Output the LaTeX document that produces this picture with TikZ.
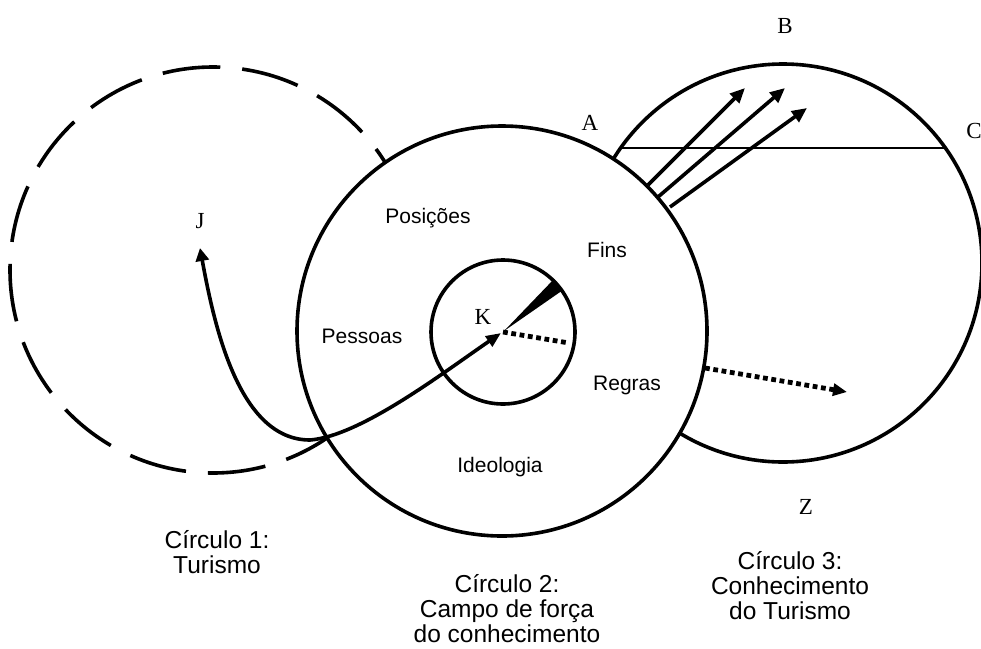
\documentclass[tikz,border=0pt]{standalone}
\usepackage{fontspec}
\setmainfont{Liberation Serif}
\newfontfamily\sansf{Liberation Sans}
\usetikzlibrary{arrows.meta}
\begin{document}
\begin{tikzpicture}[x=1pt,y=-1pt,
  ring/.style={line width=3.6pt},
  lett/.style={font=\fontsize{23}{25}\selectfont, inner sep=0pt, anchor=base},
  inlab/.style={font=\sansf\fontsize{21}{24}\selectfont, inner sep=0pt, anchor=base},
  capt/.style={font=\sansf\fontsize{24.5}{24.5}\selectfont, inner sep=0pt, anchor=base},
  arr/.style={line width=3.6pt, -{Triangle[length=15pt,width=13pt]}},
  dotline/.style={line width=4.8pt, dash pattern=on 4.8pt off 3.6pt},
]
\useasboundingbox (0,0) rectangle (981,648);
% circle 1 (dashed) and circle 3, then circle 2 filled on top
\draw[ring, dash pattern=on 58pt off 22pt, dash phase=54pt] (213,270) circle[radius=203];
\draw[ring] (783,263) circle[radius=199];
\draw[ring, fill=white] (502,331) circle[radius=205];
% inner circle
\draw[ring] (503,332) circle[radius=72];
% coordinates
\coordinate (kc) at (503,332);
\coordinate (kt) at (501,333);
\coordinate (jt) at (200,248);
\coordinate (low) at (310,440);
\coordinate (w1) at (563,290);
\coordinate (w2) at (554,279);
\coordinate (de) at (569,343);
\coordinate (ch1) at (620.6,148);
\coordinate (ch2) at (945.4,148);
\coordinate (a1s) at (648,185);
\coordinate (a1e) at (745,88);
\coordinate (a2s) at (658,197);
\coordinate (a2e) at (785,88);
\coordinate (a3s) at (670,207);
\coordinate (a3e) at (807,108);
\coordinate (os) at (705,368);
\coordinate (oe) at (847,392);
% wedge
\fill (504,331) -- (w1) -- (w2) -- cycle;
% dotted lines
\draw[dotline] (kc) -- (de);
\draw[dotline, -{Triangle[length=14pt,width=12pt]}] (os) -- (oe);
% chord
\draw[line width=1.8pt] (ch1) -- (ch2);
% three arrows
\draw[arr] (a1s) -- (a1e);
\draw[arr] (a2s) -- (a2e);
\draw[arr] (a3s) -- (a3e);
% main curve J <-> K
\draw[line width=3.6pt, {Triangle[length=13pt,width=13pt]}-{Triangle[length=15pt,width=12pt]}]
  (jt) .. controls (215,330) and (240,440) .. (low) .. controls (360,436) and (440,375) .. (kt);
% letters
\node[lett] (A) at (590,130) {A};
\node[lett] (B) at (785,33) {B};
\node[lett] (C) at (974,138) {C};
\node[lett] (Z) at (806,514) {Z};
\node[lett] (J) at (200,228) {J};
\node[lett] (K) at (483,324) {K};
% inner labels
\node[inlab] (pos) at (428,223) {Posições};
\node[inlab] (fins) at (607,257) {Fins};
\node[inlab] (pes) at (362,343) {Pessoas};
\node[inlab] (reg) at (627,390) {Regras};
\node[inlab] (ide) at (500,472) {Ideologia};
% captions
\node[capt] (c1) at (217,548) {\begin{tabular}[t]{@{}c@{}}Círculo 1:\\Turismo\end{tabular}};
\node[capt] (c2) at (507,592) {\begin{tabular}[t]{@{}c@{}}Círculo 2:\\Campo de força\\do conhecimento\end{tabular}};
\node[capt] (c3) at (790,569) {\begin{tabular}[t]{@{}c@{}}Círculo 3:\\Conhecimento\\do Turismo\end{tabular}};
\end{tikzpicture}
\end{document}
